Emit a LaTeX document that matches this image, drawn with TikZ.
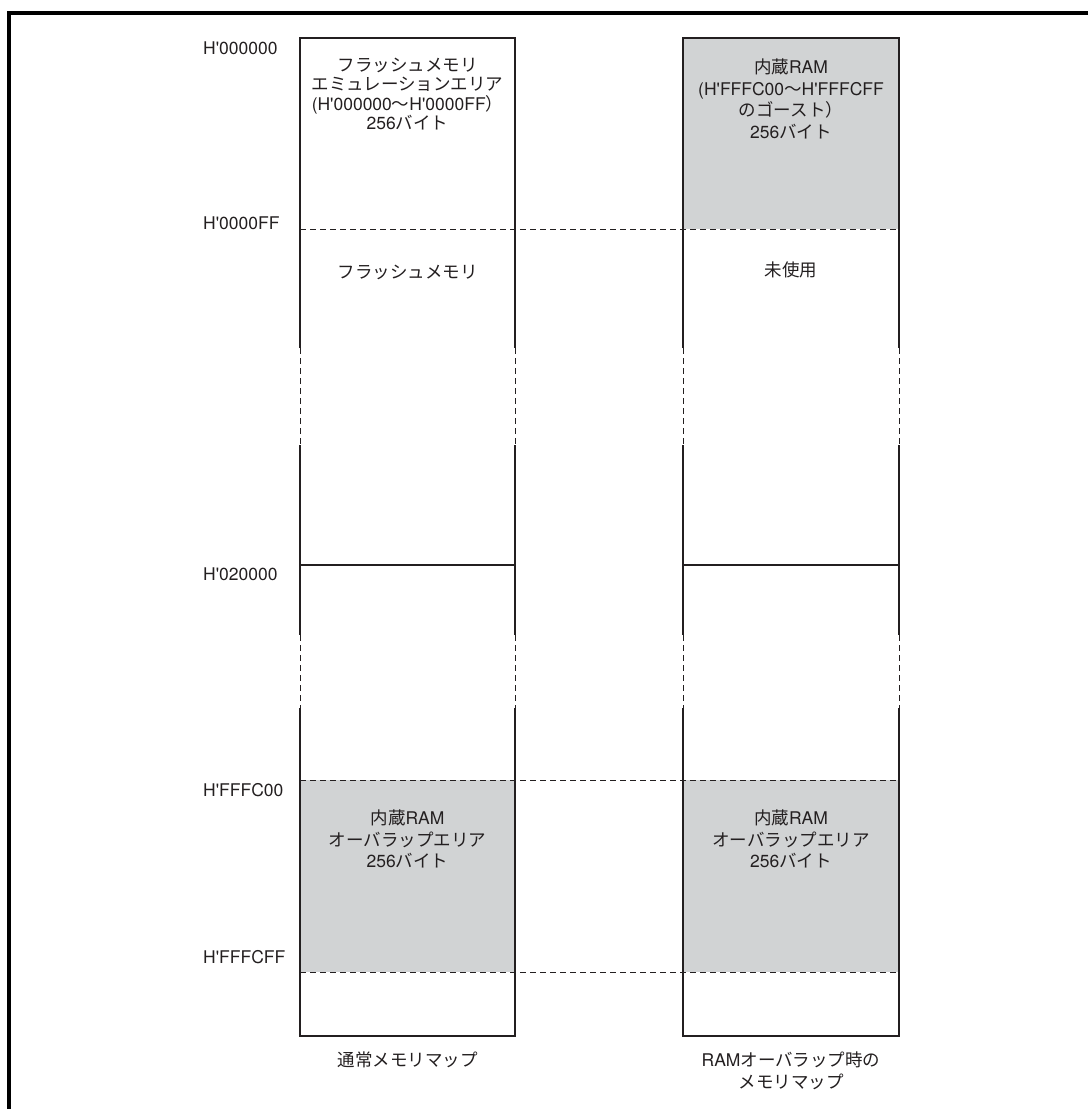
\documentclass[tikz,border=0pt]{standalone}
\usepackage{fontspec}
\setmainfont{TeX Gyre Heros}
\newfontfamily\jpfont{Noto Sans CJK JP}
\usepackage{tikz}
\usetikzlibrary{positioning}

\definecolor{ink}{HTML}{231F20}
\definecolor{ramgray}{HTML}{D1D3D4}
\newcommand{\mapfont}{\fontsize{17.5}{21.5}\selectfont}
\newcommand{\jp}[1]{{\jpfont #1}}
\newcommand{\hx}[1]{H\textquotesingle #1}

\begin{document}
\begin{tikzpicture}[
    x=1pt, y=-1pt,
    wall/.style={draw=ink, line width=2.9pt, line join=miter},
    split/.style={draw=ink, line width=2.2pt},
    gap/.style={draw=ink, line width=1pt, dash pattern=on 6pt off 4pt},
    bound/.style={draw=ink, line width=1pt, dash pattern=on 6pt off 4pt},
    ram/.style={fill=ramgray},
    addr/.style={anchor=west, inner sep=0pt, text=ink, font=\mapfont},
    area/.style={align=center, inner sep=0pt, text=ink, font=\mapfont},
    title/.style={align=center, inner sep=0pt, text=ink, font=\mapfont}
]
    \useasboundingbox (0,0) rectangle (1088,1109);
    \draw[line width=3.5pt] (1088,13) -- (9,13) -- (9,1109);

    % shaded RAM areas
    \fill[ram] (683,38) rectangle (899,229);
    \fill[ram] (300,780) rectangle (515,972);
    \fill[ram] (683,780) rectangle (899,972);

    % area boundaries
    \draw[bound] (300,229) -- (899,229);
    \draw[bound] (300,780) -- (899,780);
    \draw[bound] (300,972) -- (899,972);

    % both map columns
    \foreach \xl/\xr in {300/515, 683/899} {
        \draw[wall] (\xl,348) -- (\xl,38) -- (\xr,38) -- (\xr,348);
        \draw[wall] (\xl,445) -- (\xl,635) (\xr,445) -- (\xr,635);
        \draw[wall] (\xl,708) -- (\xl,1036) -- (\xr,1036) -- (\xr,708);
        \draw[gap] (\xl,348) -- (\xl,445) (\xr,348) -- (\xr,445);
        \draw[gap] (\xl,635) -- (\xl,708) (\xr,635) -- (\xr,708);
        \draw[split] (\xl,565) -- (\xr,565);
    }
    \coordinate (nbot) at (407.5,1036);
    \coordinate (rbot) at (791,1036);

    % addresses
    \node[addr] (a000) at (203,48)  {\hx{000000}};
    \node[addr] (a0ff) at (203,223) {\hx{0000FF}};
    \node[addr] (a200) at (203,574) {\hx{020000}};
    \node[addr] (ac00) at (203,790) {\hx{FFFC00}};
    \node[addr] (acff) at (203,957) {\hx{FFFCFF}};

    % normal map
    \node[area, font=\fontsize{17.5}{19.5}\selectfont] (emu) at (407.5,94)
        {\jp{フラッシュメモリ}\\\jp{エミュレーションエリア}\\
        (\hx{000000}\jp{～}\hx{0000FF}\jp{）}\\256\jp{バイト}};
    \node[area] (flash) at (407.5,272) {\jp{フラッシュメモリ}};
    \node[area] (novl) at (407.5,839) {\jp{内蔵}RAM\\\jp{オーバラップエリア}\\256\jp{バイト}};

    % overlap map
    \node[area] (ghost) at (791,99) {\jp{内蔵}RAM\\(\hx{FFFC00}\jp{～}\hx{FFFCFF}\\
        \jp{のゴースト）}\\256\jp{バイト}};
    \node[area] (unused) at (791,270) {\jp{未使用}};
    \node[area] (rovl) at (791,839) {\jp{内蔵}RAM\\\jp{オーバラップエリア}\\256\jp{バイト}};

    % captions
    \node[title, anchor=north, below=16pt of nbot] (ncap) {\jp{通常メモリマップ}};
    \node[title, anchor=north, below=16pt of rbot] (rcap) {RAM\jp{オーバラップ時の}\\\jp{メモリマップ}};
\end{tikzpicture}
\end{document}
